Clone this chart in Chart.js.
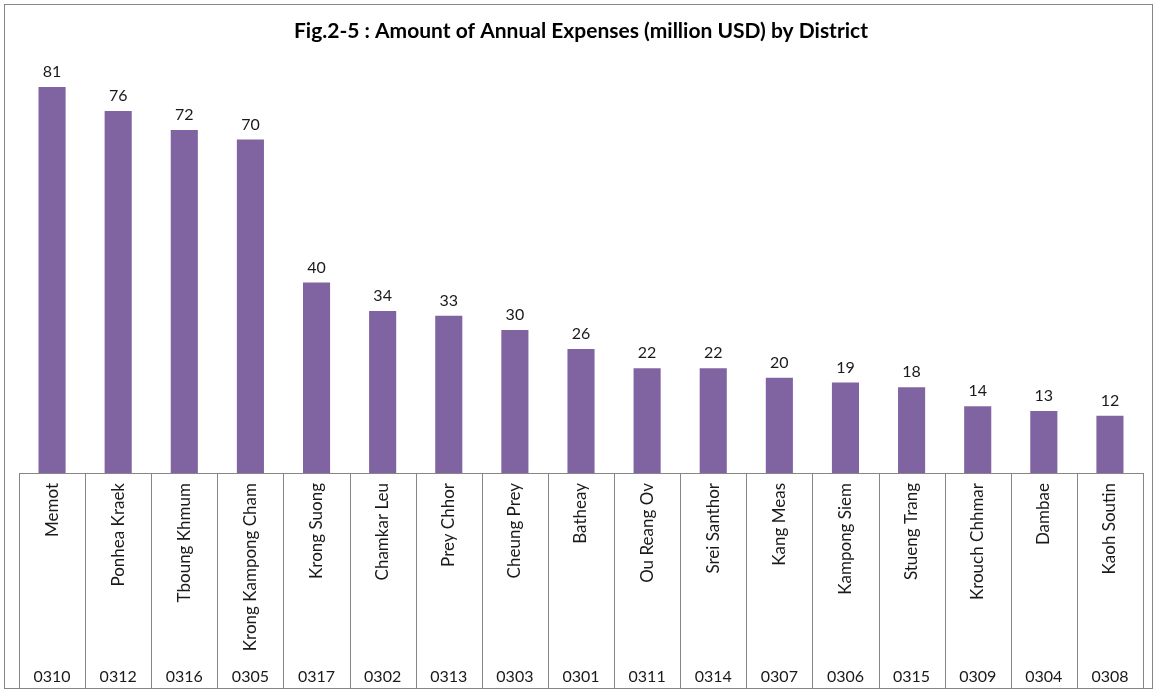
<!DOCTYPE html>
<html>
<head>
<meta charset="utf-8">
<script src="https://cdn.jsdelivr.net/npm/chart.js@4/dist/chart.umd.min.js"></script>
<style>
    html, body { margin: 0; padding: 0; background: #fff; }
    #wrap { width: 1157px; height: 691px; position: relative; }
</style>
</head>
<body>
<div id="wrap"><canvas id="expensesChart"></canvas></div>
<script>
// District names, codes and annual expenses (million USD)
const districts = ["Memot", "Ponhea Kraek", "Tboung Khmum", "Krong Kampong Cham", "Krong Suong",
    "Chamkar Leu", "Prey Chhor", "Cheung Prey", "Batheay", "Ou Reang Ov", "Srei Santhor",
    "Kang Meas", "Kampong Siem", "Stueng Trang", "Krouch Chhmar", "Dambae", "Kaoh Soutin"];
const districtCodes = ["0310", "0312", "0316", "0305", "0317", "0302", "0313", "0303", "0301",
    "0311", "0314", "0307", "0306", "0315", "0309", "0304", "0308"];
const expenses = [81, 76, 72, 70, 40, 34, 33, 30, 26, 22, 22, 20, 19, 18, 14, 13, 12];

const FONT = "Lato, 'Open Sans', sans-serif";
const LINE_GRAY = "#868686";

// ------------------------------------------------------
// Frame, category separators, codes and value labels
// ------------------------------------------------------
const tablePlugin = {
    id: "tablePlugin",
    afterDraw(chart) {
        const ctx = chart.ctx;
        const x = chart.scales.x;
        const area = chart.chartArea;
        const bottom = 688;
        ctx.save();
        ctx.strokeStyle = LINE_GRAY;
        ctx.lineWidth = 1;

        // outer frame
        ctx.strokeRect(4.5, 4.5, 1148, 684);

        // baseline
        ctx.beginPath();
        ctx.moveTo(area.left, Math.round(area.bottom) + 0.5);
        ctx.lineTo(area.right, Math.round(area.bottom) + 0.5);
        ctx.stroke();

        // vertical separators between categories
        const step = (area.right - area.left) / districts.length;
        for (let i = 0; i <= districts.length; i++) {
            const px = Math.round(area.left + i * step) + 0.5;
            ctx.beginPath();
            ctx.moveTo(px, area.bottom);
            ctx.lineTo(px, bottom);
            ctx.stroke();
        }

        // district codes
        ctx.fillStyle = "#1a1a1a";
        ctx.font = "16px " + FONT;
        ctx.textAlign = "center";
        ctx.textBaseline = "middle";
        districtCodes.forEach((code, i) => {
            ctx.fillText(code, x.getPixelForValue(i), 677);
        });

        // values above bars
        const meta = chart.getDatasetMeta(0);
        ctx.textBaseline = "bottom";
        meta.data.forEach((bar, i) => {
            ctx.fillText(String(expenses[i]), bar.x, bar.y - 7);
        });
        ctx.restore();
    }
};

new Chart(document.getElementById("expensesChart"), {
    type: "bar",
    data: {
        labels: districts,
        datasets: [{
            data: expenses,
            backgroundColor: "#8064A2",
            categoryPercentage: 1,
            barPercentage: 0.41
        }]
    },
    options: {
        responsive: true,
        maintainAspectRatio: false,
        animation: false,
        layout: { padding: { left: 19, right: 14, top: 0, bottom: 3 } },
        plugins: {
            legend: { display: false },
            tooltip: { enabled: false },
            title: {
                display: true,
                text: "Fig.2-5 : Amount of Annual Expenses (million USD) by District",
                color: "#000",
                font: { family: FONT, size: 21, weight: "bold" },
                padding: { top: 19, bottom: 0 }
            }
        },
        scales: {
            y: {
                display: false,
                min: 0,
                max: 90
            },
            x: {
                border: { display: false },
                grid: { display: false, drawTicks: false },
                ticks: {
                    autoSkip: false,
                    minRotation: 90,
                    maxRotation: 90,
                    padding: 10,
                    color: "#1a1a1a",
                    font: { family: FONT, size: 17 }
                },
                afterFit: scale => { scale.height = 215; }
            }
        }
    },
    plugins: [tablePlugin]
});
</script>
</body>
</html>
